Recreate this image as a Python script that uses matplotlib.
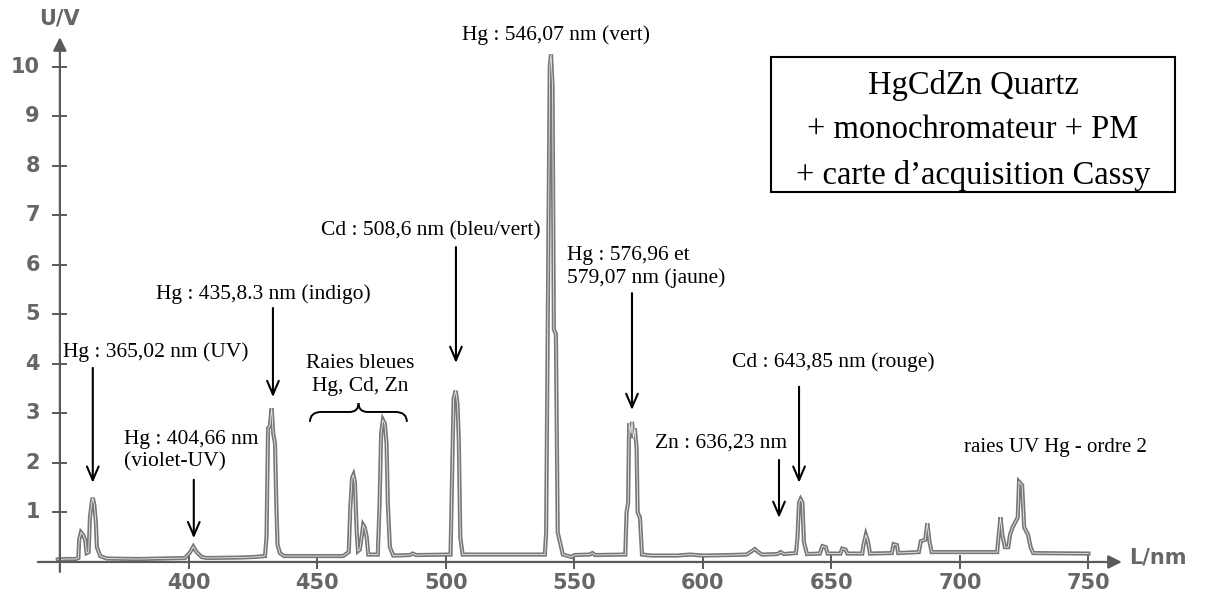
"""
Spectre d'une lampe HgCdZn mesure avec monochromateur + PM.
"""
import matplotlib
matplotlib.use("Agg")
import matplotlib.pyplot as plt
from matplotlib.patches import Rectangle, PathPatch
from matplotlib.path import Path

wl = [349, 352, 356, 357.0, 357.3, 358.0, 358.8, 359.6, 360.2, 361.0,
      361.5, 362.2, 362.6, 363.2, 363.8, 364.2, 365.5, 368, 380, 390,
      398.5, 400.5, 401.7, 403, 405, 407, 420, 425, 429.6, 430.2,
      430.8, 431.5, 432.2, 432.8, 433.5, 434.0, 434.5, 435.4, 437, 450,
      460, 462.2, 462.8, 463.5, 464.0, 464.6, 465.3, 465.8, 466.5, 467.2,
      467.8, 468.4, 469.2, 469.8, 473.5, 474.2, 474.8, 475.5, 476.2, 476.9,
      477.4, 478.2, 479.5, 486, 487, 488.5, 501.8, 502.3, 503.0, 503.8,
      504.5, 505.0, 505.6, 506.5, 538.5, 539.0, 539.6, 540.4, 540.9, 541.5,
      542.0, 542.8, 543.5, 545.5, 549, 550, 556, 557, 558, 569.8,
      570.3, 570.9, 571.3, 572.0, 572.4, 573.0, 573.5, 574.2, 574.6, 575.5,
      576.3, 580, 590, 595, 600, 610, 617, 619, 620.2, 621.5,
      623, 629, 630.2, 631.5, 636.2, 636.8, 637.4, 638.0, 638.7, 639.3,
      640.5, 645.5, 646.5, 647.8, 648.5, 653.5, 654.2, 655.5, 656.2, 662,
      662.5, 663.4, 664.2, 665, 673.5, 674.2, 675.5, 676, 684, 684.8,
      686.5, 687.3, 688.2, 689, 700, 714.5, 715, 715.8, 716.5, 717.5,
      718.8, 719.5, 720.5, 722.5, 723.0, 724.2, 725, 726.5, 727.5, 728.5,
      750]
u = [0.05, 0.06, 0.06, 0.08, 0.45, 0.6, 0.55, 0.45, 0.18, 0.2,
     0.9, 1.2, 1.3, 1.15, 0.8, 0.3, 0.12, 0.07, 0.06, 0.07,
     0.08, 0.2, 0.31, 0.2, 0.1, 0.08, 0.09, 0.1, 0.12, 0.5,
     2.7, 2.75, 3.1, 2.6, 2.4, 1.2, 0.35, 0.18, 0.12, 0.12,
     0.12, 0.2, 1.1, 1.7, 1.76, 1.6, 0.6, 0.22, 0.25, 0.5,
     0.75, 0.7, 0.5, 0.15, 0.15, 1.2, 2.6, 2.87, 2.8, 2.4,
     1.2, 0.3, 0.13, 0.14, 0.17, 0.14, 0.15, 1.5, 3.3, 3.46,
     3.2, 2.5, 0.5, 0.15, 0.15, 0.6, 4.7, 10.0, 10.25, 9.6,
     4.7, 4.6, 0.6, 0.15, 0.1, 0.14, 0.15, 0.18, 0.14, 0.15,
     1.0, 1.2, 2.8, 2.6, 2.83, 2.5, 2.7, 2.3, 1.0, 0.9,
     0.15, 0.13, 0.13, 0.15, 0.13, 0.14, 0.15, 0.22, 0.26, 0.2,
     0.15, 0.16, 0.2, 0.16, 0.18, 0.5, 1.2, 1.27, 1.2, 0.4,
     0.16, 0.17, 0.32, 0.3, 0.17, 0.17, 0.27, 0.25, 0.17, 0.17,
     0.35, 0.55, 0.42, 0.17, 0.18, 0.36, 0.34, 0.18, 0.2, 0.42,
     0.45, 0.78, 0.4, 0.2, 0.2, 0.2, 0.5, 0.9, 0.55, 0.3,
     0.3, 0.55, 0.7, 0.9, 1.62, 1.55, 0.7, 0.55, 0.3, 0.18,
     0.17]

xticks = [400, 450, 500, 550, 600, 650, 700, 750]
yticks = [1, 2, 3, 4, 5, 6, 7, 8, 9, 10]

axis_col = "#5a5a5a"
tick_font = dict(family="DejaVu Sans", weight="bold", size=15, color="#666666")
serif = "Liberation Serif"

fig = plt.figure(figsize=(12.1, 5.96), dpi=100)
ax = fig.add_axes([0, 0, 1, 1])
ax.set_xlim(326.5, 797.3)
ax.set_ylim(-0.687, 11.35)
ax.axis("off")

# axes avec fleches, facon ecran Cassy
ax.annotate("", xy=(763, 0), xytext=(341.2, 0),
            arrowprops=dict(arrowstyle="-|>", color=axis_col, lw=1.6,
                            mutation_scale=20, shrinkA=0, shrinkB=0))
ax.annotate("", xy=(349.8, 10.6), xytext=(349.8, -0.2),
            arrowprops=dict(arrowstyle="-|>", color=axis_col, lw=1.6,
                            mutation_scale=20, shrinkA=0, shrinkB=0))
for xt in xticks:
    ax.plot([xt, xt], [-0.13, 0.13], color=axis_col, lw=1.4)
    ax.text(xt, -0.42, str(xt), ha="center", va="center", **tick_font)
for yt in yticks:
    ax.plot([347.2, 352.3], [yt, yt], color=axis_col, lw=1.4)
    ax.text(342.0, yt, str(yt), ha="right", va="center", **tick_font)
ax.text(349.8, 10.97, "U/V", ha="center", va="center", **tick_font)
ax.text(766, 0.09, "L/nm", ha="left", va="center", **tick_font)

# spectre : trait gris creux comme sur le scan
ax.plot(wl, u, color="#777777", lw=3.0, solid_joinstyle="miter")
ax.plot(wl, u, color="white", lw=0.6, alpha=0.85)

# etiquettes des raies
fs = 15.5
ls = 1.25
ax.text(543.0, 10.65, "Hg : 546,07 nm (vert)", ha="center", va="center",
        family=serif, fontsize=fs)
ax.text(494.0, 6.69, "Cd : 508,6 nm (bleu/vert)", ha="center", va="center",
        family=serif, fontsize=fs)
ax.text(547.1, 5.96, "Hg : 576,96 et\n579,07 nm (jaune)", ha="left",
        va="center", family=serif, fontsize=fs, linespacing=ls)
ax.text(428.8, 5.41, "Hg : 435,8.3 nm (indigo)", ha="center", va="center",
        family=serif, fontsize=fs)
ax.text(387.0, 4.24, "Hg : 365,02 nm (UV)", ha="center", va="center",
        family=serif, fontsize=fs)
ax.text(466.5, 3.78, "Raies bleues\nHg, Cd, Zn", ha="center", va="center",
        family=serif, fontsize=fs, linespacing=ls)
ax.text(374.7, 2.24, "Hg : 404,66 nm\n(violet-UV)", ha="left", va="center",
        family=serif, fontsize=fs, linespacing=ls)
ax.text(607.2, 2.40, "Zn : 636,23 nm", ha="center", va="center",
        family=serif, fontsize=fs)
ax.text(650.6, 4.04, "Cd : 643,85 nm (rouge)", ha="center", va="center",
        family=serif, fontsize=fs)
ax.text(737.2, 2.32, "raies UV Hg - ordre 2", ha="center", va="center",
        family=serif, fontsize=fs - 0.5)

# fleches vers les pics (x, debut, fin)
arrows = [(362.6, 3.92, 1.60), (401.9, 1.66, 0.48), (432.7, 5.13, 3.33),
          (503.9, 6.36, 4.02), (572.4, 5.43, 3.07), (629.6, 2.06, 0.89),
          (637.4, 3.54, 1.60)]
for xa, y0, y1 in arrows:
    ax.annotate("", xy=(xa, y1), xytext=(xa, y0),
                arrowprops=dict(arrowstyle="->,head_length=0.7,head_width=0.3",
                                color="black", lw=1.5, mutation_scale=14,
                                shrinkA=0, shrinkB=0))

# accolade des raies bleues, deux moities symetriques
xl, xm, xr = 447.1, 466.0, 484.8
yb, yh, yt = 2.83, 3.03, 3.21
half_l = Path([(xl, yb), (xl, yh), (xl + 4.5, yh), (xm - 3.5, yh),
               (xm, yh), (xm, yt)],
              [Path.MOVETO, Path.CURVE3, Path.CURVE3, Path.LINETO,
               Path.CURVE3, Path.CURVE3])
half_r = Path([(xr, yb), (xr, yh), (xr - 4.5, yh), (xm + 3.5, yh),
               (xm, yh), (xm, yt)],
              [Path.MOVETO, Path.CURVE3, Path.CURVE3, Path.LINETO,
               Path.CURVE3, Path.CURVE3])
for p in (half_l, half_r):
    ax.add_patch(PathPatch(p, fill=False, color="black", lw=1.4))

# cadre du montage
ax.add_patch(Rectangle((626.5, 7.47), 157.2, 2.73, fill=False,
                       edgecolor="black", lw=1.5))
ax.text(705.1, 8.72, "HgCdZn Quartz\n+ monochromateur + PM\n+ carte d\u2019acquisition Cassy",
        ha="center", va="center", family=serif, fontsize=23.5, linespacing=1.6)

fig.savefig("out.png", dpi=100)
